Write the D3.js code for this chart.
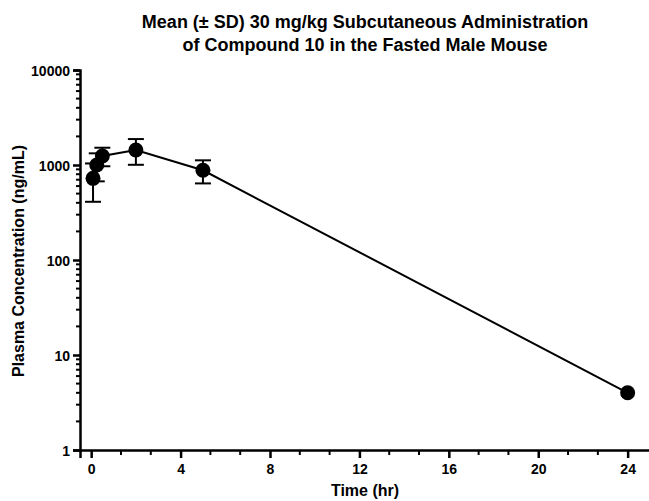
<!DOCTYPE html>
<html>
<head>
<meta charset="utf-8">
<script src="https://cdn.jsdelivr.net/npm/d3@7"></script>
<style>
  html, body { margin: 0; padding: 0; background: #fff; }
  svg { display: block; }
  text { font-family: "Liberation Sans", Arial, sans-serif; font-weight: bold; fill: #000; }
</style>
</head>
<body>
<script>
// ---- data ----
const timeHr = [0.083, 0.25, 0.5, 2, 5, 24];
const meanConc = [724, 1000, 1245, 1440, 880, 4.0];
const sdConc = [314, 327, 275, 435, 240, 0];
const xTickValues = [0, 4, 8, 12, 16, 20, 24];
const yTickValues = [1, 10, 100, 1000, 10000];
const titleLines = ["Mean (\u00B1 SD) 30 mg/kg Subcutaneous Administration",
                    "of Compound 10 in the Fasted Male Mouse"];
const xLabel = "Time (hr)";
const yLabel = "Plasma Concentration (ng/mL)";

const W = 649, H = 501;
const svg = d3.select("body").append("svg").attr("width", W).attr("height", H);

const x = d3.scaleLinear().domain([-0.5, 25]).range([80, 650]);
const y = d3.scaleLog().domain([1, 10000]).range([450, 70]);

// title
svg.append("g").selectAll("text").data(titleLines).join("text")
  .attr("x", 365).attr("y", (d, i) => 28 + i * 23)
  .attr("text-anchor", "middle").attr("font-size", 18).text(d => d);

// y axis
const yMinor = [];
for (let e = 0; e < 4; e++) for (let m = 2; m <= 9; m++) yMinor.push(m * Math.pow(10, e));
const yAxis = d3.axisLeft(y).tickValues(yTickValues).tickFormat(d3.format("d")).tickSizeOuter(0).tickSize(7).tickPadding(3);
const gy = svg.append("g").attr("transform", `translate(${x(-0.5)},0)`).call(yAxis);
gy.select(".domain").attr("stroke", "#000").attr("stroke-width", 2.5);
gy.selectAll(".tick line").attr("stroke", "#000").attr("stroke-width", 2.5);
gy.selectAll(".tick text").attr("font-size", 14).attr("dy", "0.36em");
gy.append("g").selectAll("line").data(yMinor).join("line")
  .attr("x1", 0).attr("x2", -4).attr("y1", d => y(d)).attr("y2", d => y(d))
  .attr("stroke", "#000").attr("stroke-width", 2);

// x axis
const xMinor = [];
for (let t = 0; t < 24; t += 4) { xMinor.push(t + 4 / 3, t + 8 / 3); }
const xAxis = d3.axisBottom(x).tickValues(xTickValues).tickFormat(d3.format("d")).tickSizeOuter(0).tickSize(8).tickPadding(6);
const gx = svg.append("g").attr("transform", `translate(0,${y(1)})`).call(xAxis);
gx.select(".domain").attr("stroke", "#000").attr("stroke-width", 2.5);
gx.selectAll(".tick line").attr("stroke", "#000").attr("stroke-width", 2.5);
gx.selectAll(".tick text").attr("font-size", 14);
gx.append("g").selectAll("line").data(xMinor).join("line")
  .attr("x1", d => x(d)).attr("x2", d => x(d)).attr("y1", 0).attr("y2", 5)
  .attr("stroke", "#000").attr("stroke-width", 2);

// axis titles
svg.append("text").attr("x", 365).attr("y", 496).attr("text-anchor", "middle")
  .attr("font-size", 16).text(xLabel);
svg.append("text").attr("transform", `translate(24,261) rotate(-90)`)
  .attr("text-anchor", "middle").attr("font-size", 16).text(yLabel);

// data
const pts = timeHr.map((t, i) => ({ t, m: meanConc[i], s: sdConc[i] }));
const line = d3.line().x(d => x(d.t)).y(d => y(d.m));
svg.append("path").datum(pts).attr("d", line)
  .attr("fill", "none").attr("stroke", "#000").attr("stroke-width", 2);

const eb = svg.append("g").selectAll("g").data(pts.filter(d => d.s > 0)).join("g");
eb.append("line").attr("x1", d => x(d.t)).attr("x2", d => x(d.t))
  .attr("y1", d => y(d.m + d.s)).attr("y2", d => y(Math.max(d.m - d.s, 1)))
  .attr("stroke", "#000").attr("stroke-width", 2);
eb.append("line").attr("x1", d => x(d.t) - 8).attr("x2", d => x(d.t) + 8)
  .attr("y1", d => y(d.m + d.s)).attr("y2", d => y(d.m + d.s))
  .attr("stroke", "#000").attr("stroke-width", 2);
eb.append("line").attr("x1", d => x(d.t) - 8).attr("x2", d => x(d.t) + 8)
  .attr("y1", d => y(d.m - d.s)).attr("y2", d => y(d.m - d.s))
  .attr("stroke", "#000").attr("stroke-width", 2);

svg.append("g").selectAll("circle").data(pts).join("circle")
  .attr("cx", d => x(d.t)).attr("cy", d => y(d.m)).attr("r", 7.5).attr("fill", "#000");
</script>
</body>
</html>
